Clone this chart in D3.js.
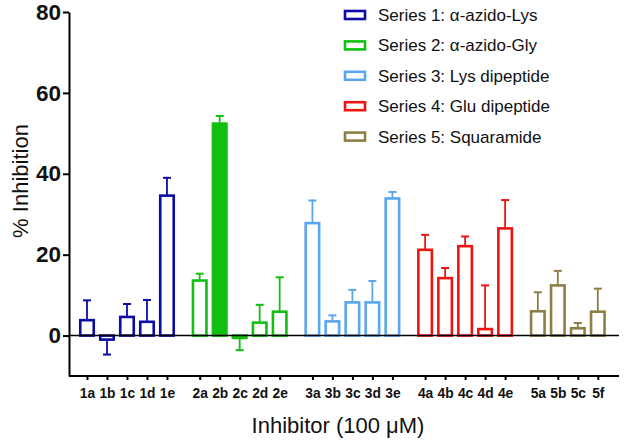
<!DOCTYPE html>
<html>
<head>
<meta charset="utf-8">
<script src="https://cdn.jsdelivr.net/npm/d3@7"></script>
<style>
  body { margin: 0; background: #fff; }
  text { font-family: Arial, "Liberation Sans", sans-serif; }
</style>
</head>
<body>
<svg id="chart"></svg>
<script>
// data
var groups = ["1", "2", "3", "4", "5"];
var seriesNames = ["Series 1: \u03b1-azido-Lys", "Series 2: \u03b1-azido-Gly",
                   "Series 3: Lys dipeptide", "Series 4: Glu dipeptide", "Series 5: Squaramide"];
var seriesColors = ["#0b0ba6", "#10bf10", "#5aa6ee", "#ee1414", "#8c7e45"];
var compounds = ["1a", "1b", "1c", "1d", "1e",
                 "2a", "2b", "2c", "2d", "2e",
                 "3a", "3b", "3c", "3d", "3e",
                 "4a", "4b", "4c", "4d", "4e",
                 "5a", "5b", "5c", "5f"];
var inhibition = [3.8, -1.0, 4.6, 3.4, 34.6,
                  13.6, 52.4, -0.6, 3.2, 5.9,
                  27.8, 3.5, 8.2, 8.2, 33.9,
                  21.2, 14.2, 22.1, 1.6, 26.5,
                  6.0, 12.4, 1.8, 5.9];
var errorBar = [4.9, 3.7, 3.2, 5.4, 4.4,
                1.7, 1.9, 3.0, 4.4, 8.5,
                5.6, 1.5, 3.1, 5.3, 1.6,
                3.7, 2.5, 2.4, 10.8, 7.0,
                4.7, 3.6, 1.3, 5.7];
var filled = ["2b"];
var yTicks = [0, 20, 40, 60, 80];

var margin = { left: 69, right: 6, top: 12, bottom: 68 };
var width = 625 - margin.left - margin.right;
var height = 444 - margin.top - margin.bottom;

var svg = d3.select("#chart").attr("width", 625).attr("height", 444);
var g = svg.append("g")
    .attr("transform", "translate(" + margin.left + "," + margin.top + ")");

var data = compounds.map(function(c, i) {
  return { name: c, group: c[0], idx: compounds.filter(function(k){ return k[0] === c[0]; }).indexOf(c),
           value: inhibition[i], err: errorBar[i], fill: filled.indexOf(c) >= 0 };
});

// scales
var xGroup = d3.scaleBand()
    .domain(groups)
    .range([8, 558.8])
    .paddingInner(0.113)
    .paddingOuter(0);

var xInner = d3.scaleBand()
    .domain([0, 1, 2, 3, 4])
    .range([0, xGroup.bandwidth()]);

function xCenter(d) { return xGroup(d.group) + xInner(d.idx) + xInner.bandwidth() / 2; }

var y = d3.scaleLinear().domain([-10, 80]).range([height, 0]);

var color = d3.scaleOrdinal().domain(groups).range(seriesColors);

// x axis (ordinal positions of each compound)
var xTickScale = d3.scaleOrdinal()
    .domain(compounds)
    .range(data.map(xCenter));

var xAxisGroup = g.append("g")
    .attr("transform", "translate(0," + height + ")")
    .call(d3.axisBottom(xTickScale).tickSize(4).tickPadding(8));
xAxisGroup.select(".domain").remove();
xAxisGroup.selectAll(".tick line").attr("stroke", "#000").attr("stroke-width", 2);
xAxisGroup.selectAll("text")
    .attr("font-size", "13.8px")
    .attr("font-weight", "bold")
    .attr("fill", "#111");
xAxisGroup.append("line")
    .attr("x1", 0).attr("x2", width)
    .attr("stroke", "#000").attr("stroke-width", 2);

// y axis
var yAxisGroup = g.append("g")
    .call(d3.axisLeft(y).tickValues(yTicks).tickSize(6).tickSizeOuter(0).tickPadding(2));
yAxisGroup.select(".domain").attr("stroke-width", 2);
yAxisGroup.selectAll(".tick line").attr("stroke-width", 2);
yAxisGroup.selectAll("text")
    .attr("font-size", "22.5px")
    .attr("font-weight", "bold")
    .attr("fill", "#111");

// bars
var bw = 13.5;
var bars = g.append("g").selectAll("g.bar")
    .data(data)
    .enter().append("g")
    .attr("class", "bar");

// error bars (one-sided, away from zero)
bars.append("line")
    .attr("x1", xCenter).attr("x2", xCenter)
    .attr("y1", function(d){ return y(d.value); })
    .attr("y2", function(d){ return y(d.value + (d.value >= 0 ? d.err : -d.err)); })
    .attr("stroke", function(d){ return color(d.group); })
    .attr("stroke-width", 1.8);
bars.append("line")
    .attr("x1", function(d){ return xCenter(d) - 4; })
    .attr("x2", function(d){ return xCenter(d) + 4; })
    .attr("y1", function(d){ return y(d.value + (d.value >= 0 ? d.err : -d.err)); })
    .attr("y2", function(d){ return y(d.value + (d.value >= 0 ? d.err : -d.err)); })
    .attr("stroke", function(d){ return color(d.group); })
    .attr("stroke-width", 2);

bars.append("rect")
    .attr("x", function(d){ return xCenter(d) - bw / 2; })
    .attr("y", function(d){ return y(Math.max(0, d.value)); })
    .attr("width", bw)
    .attr("height", function(d){ return Math.abs(y(d.value) - y(0)); })
    .attr("fill", function(d){ return d.fill ? color(d.group) : "#fff"; })
    .attr("stroke", function(d){ return color(d.group); })
    .attr("stroke-width", 2.6);

// zero line
g.append("line")
    .attr("x1", 0).attr("x2", width)
    .attr("y1", y(0)).attr("y2", y(0))
    .attr("stroke", "#000").attr("stroke-width", 1.5);

// axis labels
svg.append("text")
    .attr("x", 338)
    .attr("y", 433)
    .attr("text-anchor", "middle")
    .attr("font-size", "22px")
    .attr("fill", "#111")
    .text("Inhibitor (100 \u03bcM)");

svg.append("text")
    .attr("transform", "rotate(-90)")
    .attr("x", -181)
    .attr("y", 28)
    .attr("text-anchor", "middle")
    .attr("font-size", "22px")
    .attr("fill", "#111")
    .text("% Inhibition");

// legend
var legend = svg.append("g").selectAll("g")
    .data(seriesNames)
    .enter().append("g")
    .attr("transform", function(d, i){ return "translate(345," + (15 + i * 30.4) + ")"; });
legend.append("rect")
    .attr("x", 0).attr("y", -4)
    .attr("width", 20).attr("height", 8)
    .attr("fill", "#fff")
    .attr("stroke", function(d, i){ return seriesColors[i]; })
    .attr("stroke-width", 2.6);
legend.append("text")
    .attr("x", 33)
    .attr("y", 6)
    .attr("font-size", "17px")
    .attr("fill", "#111")
    .text(function(d){ return d; });
</script>
</body>
</html>
